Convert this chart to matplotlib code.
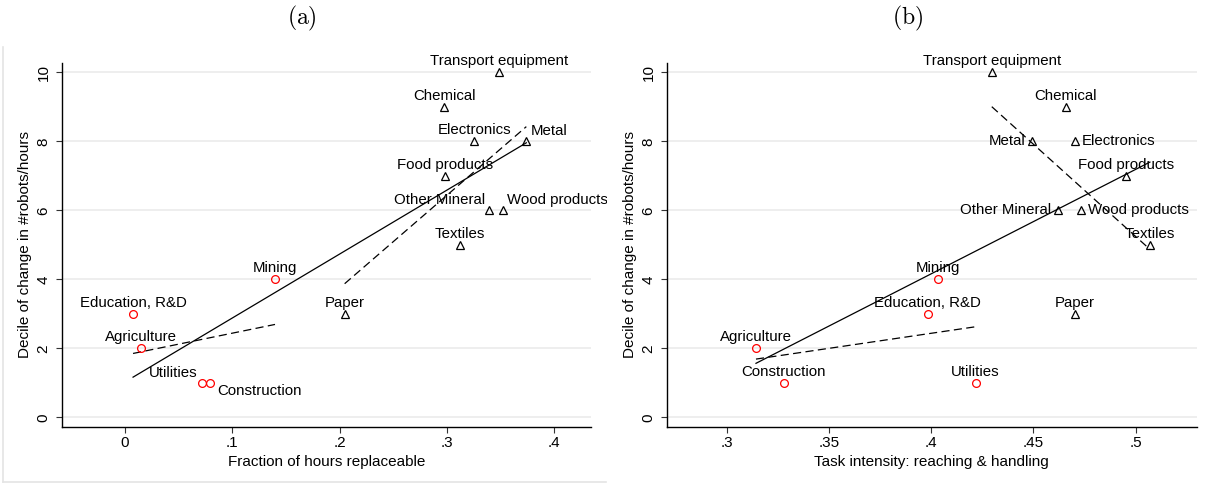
import matplotlib.pyplot as plt
import matplotlib.patches as mpatches
from matplotlib.lines import Line2D
import numpy as np

plt.rcParams["font.family"] = ["Liberation Sans", "DejaVu Sans"]
plt.rcParams["mathtext.fontset"] = "cm"

# ---------------- DATA ----------------
industries = [
    "Agriculture", "Mining", "Utilities", "Construction", "Education, R&D",
    "Transport equipment", "Chemical", "Electronics", "Metal", "Food products",
    "Other Mineral", "Wood products", "Textiles", "Paper",
]
manufacturing = [False, False, False, False, False,
                 True, True, True, True, True, True, True, True, True]
decile = [2, 4, 1, 1, 3, 10, 9, 8, 8, 7, 6, 6, 5, 3]

frac_replaceable = [0.0148, 0.1398, 0.0717, 0.0789, 0.0075,
                    0.3486, 0.2973, 0.3256, 0.3740, 0.2982,
                    0.3392, 0.3523, 0.3119, 0.2047]
reach_handle = [0.3142, 0.4032, 0.4217, 0.3277, 0.3983,
                0.4296, 0.4658, 0.4702, 0.4494, 0.4952,
                0.4620, 0.4731, 0.5070, 0.4704]

xticks_a = [0, 0.1, 0.2, 0.3, 0.4]
xticklabels_a = ["0", ".1", ".2", ".3", ".4"]
xticks_b = [0.30, 0.35, 0.40, 0.45, 0.50]
xticklabels_b = [".3", ".35", ".4", ".45", ".5"]
yticks = [0, 2, 4, 6, 8, 10]

# marker label positions (clock positions, like Stata mlabpos)
labpos_a = {"Metal": 1, "Other Mineral": 11, "Wood products": 1,
            "Utilities": 11, "Construction": 4}
labpos_b = {"Metal": 9, "Electronics": 3, "Other Mineral": 9,
            "Wood products": 3}

px = 0.72  # points per pixel
offsets = {
    12: ((0, 11), "center"),
    3: ((7, 0), "left"),
    9: ((-7, 0), "right"),
    1: ((4, 10), "left"),
    11: ((-4, 10), "right"),
    4: ((8, -8), "left"),
}

fig = plt.figure(figsize=(12.1, 4.87), dpi=100)

# light frame of the left graph region
fig.add_artist(Line2D([3 / 1210, 3 / 1210], [1 - 47 / 487, 1 - 482 / 487],
                      color="#e4e4e4", lw=1.2))
fig.add_artist(Line2D([3 / 1210, 606 / 1210], [1 - 482 / 487, 1 - 482 / 487],
                      color="#e4e4e4", lw=1.2))

clip_rect = mpatches.Rectangle((0, 0), 607 / 1210, 1, transform=fig.transFigure,
                               visible=False)
fig.add_artist(clip_rect)


def draw_panel(ax, xvals, xlim, xticks, xticklabels, xlabel, labpos, clip=None):
    xvals = np.array(xvals)
    yvals = np.array(decile, dtype=float)
    man = np.array(manufacturing)

    ax.set_xlim(xlim)
    ax.set_ylim(-0.27, 10.27)

    for y in yticks:
        ax.axhline(y, color="#eaeaea", lw=1.1, zorder=0)

    # fitted lines
    for mask, ls in [(~man, (0, (6.5, 3.5))), (man, (0, (6.5, 3.5))),
                     (np.ones_like(man), "-")]:
        xs, ys = xvals[mask], yvals[mask]
        b, a = np.polyfit(xs, ys, 1)
        xx = np.array([xs.min(), xs.max()])
        ax.plot(xx, a + b * xx, color="black", lw=0.9, ls=ls, zorder=2)

    ax.plot(xvals[~man], yvals[~man], "o", ms=5.6, mfc="none", mec="#ff0000",
            mew=0.9, zorder=3)
    ax.plot(xvals[man], yvals[man], "^", ms=6.2, mfc="none", mec="black",
            mew=0.9, zorder=3)

    for name, x, y in zip(industries, xvals, yvals):
        (dx, dy), ha = offsets[labpos.get(name, 12)]
        t = ax.annotate(name, (x, y), xytext=(dx * px, dy * px),
                        textcoords="offset points", ha=ha, va="center",
                        fontsize=10.8, annotation_clip=False, zorder=4)
        if clip is not None:
            t.set_clip_path(clip)

    ax.set_xticks(xticks)
    ax.set_xticklabels(xticklabels)
    ax.set_yticks(yticks)
    ax.set_yticklabels([str(v) for v in yticks], rotation=90, va="center")
    ax.tick_params(axis="both", labelsize=11, length=4, width=0.8,
                   color="#333333")
    ax.tick_params(axis="x", pad=2.5)
    ax.tick_params(axis="y", pad=4)

    ax.set_xlabel(xlabel, fontsize=11, labelpad=4)
    ax.set_ylabel("Decile of change in #robots/hours", fontsize=11,
                  labelpad=3)

    for s in ["top", "right"]:
        ax.spines[s].set_visible(False)
    for s in ["left", "bottom"]:
        ax.spines[s].set_linewidth(1.0)
        ax.spines[s].set_color("black")


# ---------------- PANEL (a) ----------------
ax1 = fig.add_axes([61.7 / 1210, 60.4 / 487, 529 / 1210, 363.6 / 487])
draw_panel(ax1, frac_replaceable, (-0.059, 0.434), xticks_a, xticklabels_a,
           "Fraction of hours replaceable", labpos_a, clip=clip_rect)

# ---------------- PANEL (b) ----------------
ax2 = fig.add_axes([666.7 / 1210, 60.4 / 487, 530 / 1210, 363.6 / 487])
draw_panel(ax2, reach_handle, (0.2705, 0.5299), xticks_b, xticklabels_b,
           "Task intensity: reaching & handling", labpos_b)

fig.text(302 / 1210, 1 - 18 / 487, r"$\mathrm{(a)}$", ha="center",
         va="center", fontsize=17)
fig.text(908 / 1210, 1 - 18 / 487, r"$\mathrm{(b)}$", ha="center",
         va="center", fontsize=17)

plt.savefig("out.png", dpi=100)
plt.close()
